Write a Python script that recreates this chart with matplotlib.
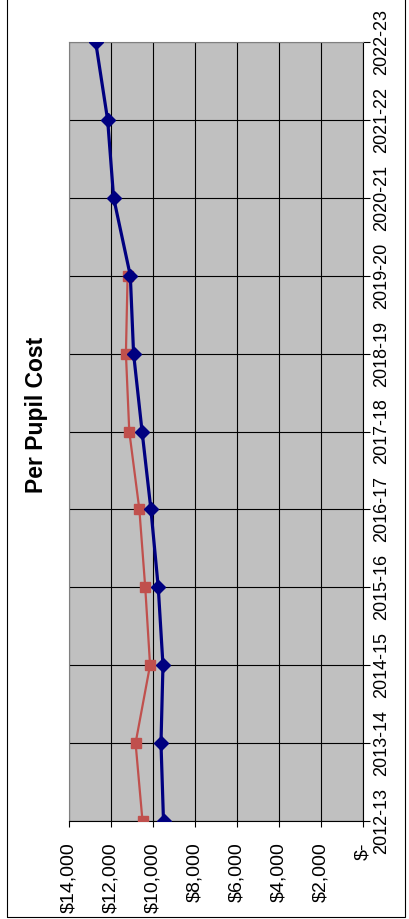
"""
Per pupil cost line chart, drawn turned on its side
"""

import numpy as np
import matplotlib
matplotlib.use('Agg')
import matplotlib.pyplot as plt
from matplotlib.patches import Rectangle

# data
years = ['2012-13', '2013-14', '2014-15', '2015-16', '2016-17', '2017-18',
         '2018-19', '2019-20', '2020-21', '2021-22', '2022-23']
blue_cost = [9500, 9620, 9525, 9750, 10100, 10520, 10925, 11080, 11875, 12160, 12730]
red_cost = [10500, 10830, 10140, 10370, 10650, 11130, 11290, 11210]
xticks = [0, 2000, 4000, 6000, 8000, 10000, 12000, 14000]
xlabels = ['$-', '$2,000', '$4,000', '$6,000', '$8,000', '$10,000', '$12,000', '$14,000']

plt.rcParams['font.family'] = ['Liberation Sans', 'DejaVu Sans']

W, H = 409, 919
fig = plt.figure(figsize=(W/100, H/100), dpi=100)

# outer frame
fig.patches.append(Rectangle((7/W, 2/H), 398/W, 1.1, transform=fig.transFigure,
                             fill=False, edgecolor='black', linewidth=0.8))

ax = fig.add_axes([69/W, (H-821)/H, (363-69)/W, (821-42)/H])
ax.set_facecolor('#C0C0C0')

ypos = np.arange(len(years))
ax.plot(red_cost, ypos[:len(red_cost)], color='#C0504D', linewidth=1.6,
        marker='s', markersize=7, zorder=3)
ax.plot(blue_cost, ypos, color='#000080', linewidth=2.3,
        marker='D', markersize=7, zorder=4)

ax.set_xlim(14000, 0)
ax.set_ylim(0, len(years)-1)
ax.set_xticks(xticks)
ax.set_xticklabels(xlabels, rotation=90, fontsize=14)
ax.set_yticks(ypos)
ax.set_yticklabels(years, rotation=90, fontsize=13, va='center')
ax.yaxis.tick_right()
ax.tick_params(axis='x', direction='out', length=4, width=0.8, pad=11.5)
ax.tick_params(axis='y', direction='out', length=5, width=0.8, pad=2)

ax.grid(True, color='black', linewidth=0.8)
ax.set_axisbelow(True)
for s in ['left', 'top']:
    ax.spines[s].set_color('#808080')
for s in ['right', 'bottom']:
    ax.spines[s].set_color('black')

fig.text(37/W, 1-415/H, 'Per Pupil Cost', rotation=90, fontsize=16.5,
         fontweight='bold', ha='center', va='center')

fig.savefig('out.png', dpi=100)
